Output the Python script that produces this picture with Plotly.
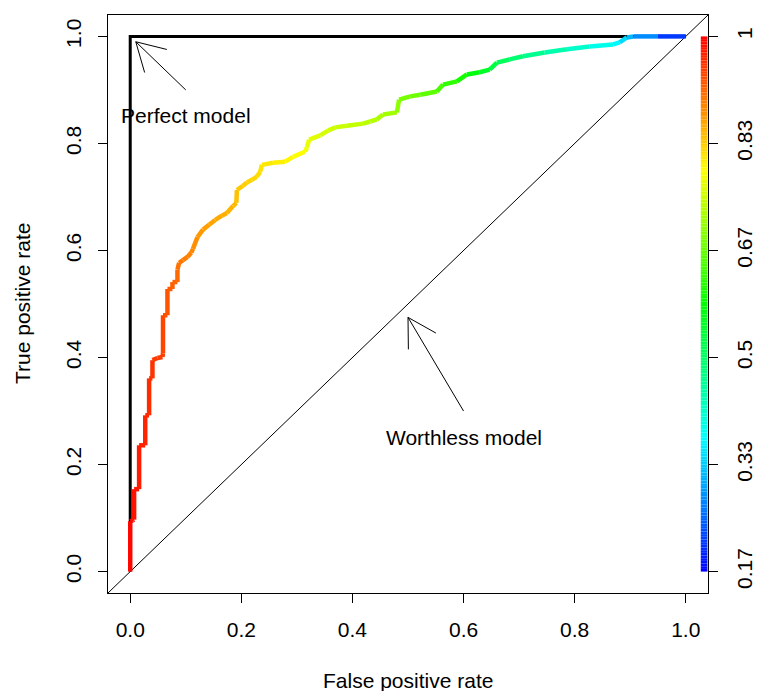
import colorsys
import math
import plotly.graph_objects as go

# ROC curve vertices (false positive rate, true positive rate) and the
# classifier cutoff attached to each vertex
fpr = [0.000, 0.000, 0.005, 0.007, 0.007, 0.016, 0.016, 0.027, 0.027, 0.034,
       0.034, 0.040, 0.040, 0.049, 0.058, 0.059, 0.059, 0.067, 0.067, 0.076,
       0.076, 0.085, 0.085, 0.088, 0.095, 0.103, 0.110, 0.113, 0.121, 0.131,
       0.142, 0.153, 0.165, 0.174, 0.185, 0.191, 0.192, 0.203, 0.210, 0.219,
       0.228, 0.234, 0.237, 0.257, 0.279, 0.293, 0.315, 0.318, 0.322, 0.342,
       0.356, 0.369, 0.390, 0.419, 0.432, 0.444, 0.455, 0.480, 0.484, 0.504,
       0.522, 0.552, 0.563, 0.588, 0.606, 0.629, 0.647, 0.660, 0.683, 0.707,
       0.746, 0.786, 0.827, 0.869, 0.881, 0.894, 0.906, 0.950, 1.000]
tpr = [0.000, 0.094, 0.096, 0.097, 0.154, 0.154, 0.236, 0.236, 0.292, 0.292,
       0.361, 0.361, 0.395, 0.399, 0.401, 0.408, 0.479, 0.479, 0.528, 0.528,
       0.541, 0.541, 0.564, 0.577, 0.582, 0.588, 0.596, 0.603, 0.625, 0.639,
       0.648, 0.657, 0.665, 0.670, 0.683, 0.689, 0.713, 0.721, 0.727, 0.732,
       0.738, 0.747, 0.760, 0.764, 0.766, 0.775, 0.785, 0.792, 0.807, 0.815,
       0.824, 0.830, 0.833, 0.837, 0.841, 0.845, 0.854, 0.858, 0.882, 0.888,
       0.891, 0.897, 0.910, 0.916, 0.929, 0.933, 0.938, 0.951, 0.957, 0.963,
       0.970, 0.976, 0.981, 0.985, 0.989, 0.998, 1.000, 1.000, 1.000]
cutoff = [1.000, 0.990, 0.988, 0.987, 0.982, 0.980, 0.975, 0.973, 0.968, 0.966,
          0.962, 0.960, 0.956, 0.953, 0.950, 0.948, 0.937, 0.935, 0.926, 0.923,
          0.920, 0.917, 0.910, 0.905, 0.900, 0.896, 0.892, 0.888, 0.878, 0.872,
          0.868, 0.864, 0.860, 0.856, 0.850, 0.846, 0.838, 0.834, 0.830, 0.826,
          0.822, 0.818, 0.813, 0.808, 0.802, 0.795, 0.785, 0.780, 0.772, 0.762,
          0.755, 0.750, 0.745, 0.738, 0.733, 0.728, 0.720, 0.712, 0.685, 0.676,
          0.668, 0.652, 0.632, 0.612, 0.588, 0.562, 0.543, 0.520, 0.500, 0.480,
          0.455, 0.430, 0.405, 0.380, 0.360, 0.330, 0.300, 0.260, 0.1667]

# color key range and labels on the right-hand axis
key_min, key_max = 0.1667, 1.0
key_tickvals = [0.0, 0.2, 0.4, 0.6, 0.8, 1.0]
key_ticktext = ["0.17", "0.33", "0.5", "0.67", "0.83", "1"]

axis_tickvals = [0.0, 0.2, 0.4, 0.6, 0.8, 1.0]
axis_ticktext = ["0.0", "0.2", "0.4", "0.6", "0.8", "1.0"]

# reference lines: perfect classifier and random guessing
perfect_x = [0.0, 0.0, 1.0]
perfect_y = [0.0, 1.0, 1.0]

# annotated arrows: (tail x, tail y, tip x, tip y) and label positions
perfect_arrow = (0.10, 0.90, 0.01, 0.99)
perfect_label = (0.10, 0.852, "Perfect model")
worthless_arrow = (0.60, 0.30, 0.50, 0.475)
worthless_label = (0.60, 0.250, "Worthless model")

W, H = 758, 691
ML, MR, MT, MB = 108, 50, 15, 98
XR = [-0.04, 1.04]
YR = [-0.04, 1.04]
PW, PH = W - ML - MR, H - MT - MB
SX = PW / (XR[1] - XR[0])
SY = PH / (YR[1] - YR[0])
FONT = "Liberation Sans, Arial, Helvetica, sans-serif"
FS = 21


def rainbow(c):
    """Map a cutoff onto the red (high) .. blue (low) rainbow palette."""
    frac = (c - key_min) / (key_max - key_min)
    frac = min(max(frac, 0.0), 1.0)
    h = (1.0 - frac) * 4.0 / 6.0
    r, g, b = colorsys.hsv_to_rgb(h, 1.0, 1.0)
    return "rgb({:d},{:d},{:d})".format(round(r * 255), round(g * 255), round(b * 255))


fig = go.Figure()

# random-guess diagonal across the whole panel
fig.add_trace(go.Scatter(x=[-1, 2], y=[-1, 2], mode="lines",
                         line=dict(color="black", width=1),
                         hoverinfo="skip", showlegend=False))

# perfect model
fig.add_trace(go.Scatter(x=perfect_x, y=perfect_y, mode="lines",
                         line=dict(color="black", width=3),
                         hoverinfo="skip", showlegend=False))

# colorized ROC curve, one segment per pair of vertices
for i in range(len(fpr) - 1):
    col = rainbow((cutoff[i] + cutoff[i + 1]) / 2.0)
    fig.add_trace(go.Scatter(x=[fpr[i], fpr[i + 1]], y=[tpr[i], tpr[i + 1]],
                             mode="lines", line=dict(color=col, width=4.5),
                             hoverinfo="skip", showlegend=False))


def arrow(tail_x, tail_y, tip_x, tip_y, head_px=32, angle_deg=30):
    dx = (tip_x - tail_x) * SX
    dy = (tip_y - tail_y) * SY
    ang = math.atan2(dy, dx)
    xs = [tail_x, tip_x, None]
    ys = [tail_y, tip_y, None]
    for s in (1, -1):
        a = ang + math.pi + s * math.radians(angle_deg)
        xs += [tip_x, tip_x + head_px * math.cos(a) / SX, None]
        ys += [tip_y, tip_y + head_px * math.sin(a) / SY, None]
    fig.add_trace(go.Scatter(x=xs, y=ys, mode="lines",
                             line=dict(color="black", width=1),
                             hoverinfo="skip", showlegend=False))


arrow(*perfect_arrow)
arrow(*worthless_arrow)

for lx, ly, txt in (perfect_label, worthless_label):
    fig.add_annotation(x=lx, y=ly, text=txt, showarrow=False,
                       xanchor="center", yanchor="middle",
                       font=dict(family=FONT, size=FS, color="black"))

# color key strip just inside the right border
key_x0 = 1.027
key_x1 = 1.039
n_key = 200
for k in range(n_key):
    y0 = k / n_key
    y1 = (k + 1) / n_key
    c = key_min + (key_max - key_min) * (k + 0.5) / n_key
    fig.add_shape(type="rect", xref="x", yref="y", x0=key_x0, x1=key_x1,
                  y0=y0, y1=y1, line=dict(width=0), fillcolor=rainbow(c),
                  layer="above")

# invisible trace carrying the right-hand key axis
fig.add_trace(go.Scatter(x=[0], y=[0], yaxis="y2", mode="markers",
                         marker=dict(opacity=0), hoverinfo="skip",
                         showlegend=False))

tickfont = dict(family=FONT, size=FS, color="black")
fig.update_layout(
    width=W, height=H, autosize=False,
    margin=dict(l=ML, r=MR, t=MT, b=MB, pad=0, autoexpand=False),
    paper_bgcolor="white", plot_bgcolor="white",
    showlegend=False,
    xaxis=dict(range=XR, tickvals=axis_tickvals, ticktext=axis_ticktext,
               ticks="outside", ticklen=9, tickwidth=1, tickcolor="black",
               showline=True, linecolor="black", linewidth=1, mirror=True,
               showgrid=False, zeroline=False, tickfont=tickfont,
               ticklabelstandoff=9, automargin=False),
    yaxis=dict(range=YR, tickvals=axis_tickvals, ticktext=axis_ticktext,
               ticks="outside", ticklen=9, tickwidth=1, tickcolor="black",
               showline=True, linecolor="black", linewidth=1, mirror=True,
               showgrid=False, zeroline=False, tickfont=tickfont,
               tickangle=-90, ticklabelstandoff=9, automargin=False),
    yaxis2=dict(range=YR, overlaying="y", side="right",
                tickvals=key_tickvals, ticktext=key_ticktext,
                ticks="outside", ticklen=9, tickwidth=1, tickcolor="black",
                showline=False, showgrid=False, zeroline=False,
                tickfont=tickfont, tickangle=-90, ticklabelstandoff=9,
                automargin=False),
)

fig.add_annotation(xref="paper", yref="paper", x=0.5, y=0,
                   yshift=-(680 - (H - MB)), text="False positive rate",
                   showarrow=False, xanchor="center", yanchor="middle",
                   font=dict(family=FONT, size=FS, color="black"))
fig.add_annotation(xref="paper", yref="paper", x=0, y=0.5,
                   xshift=-(ML - 22), text="True positive rate", textangle=-90,
                   showarrow=False, xanchor="center", yanchor="middle",
                   font=dict(family=FONT, size=FS, color="black"))

fig.write_html("out.html")
